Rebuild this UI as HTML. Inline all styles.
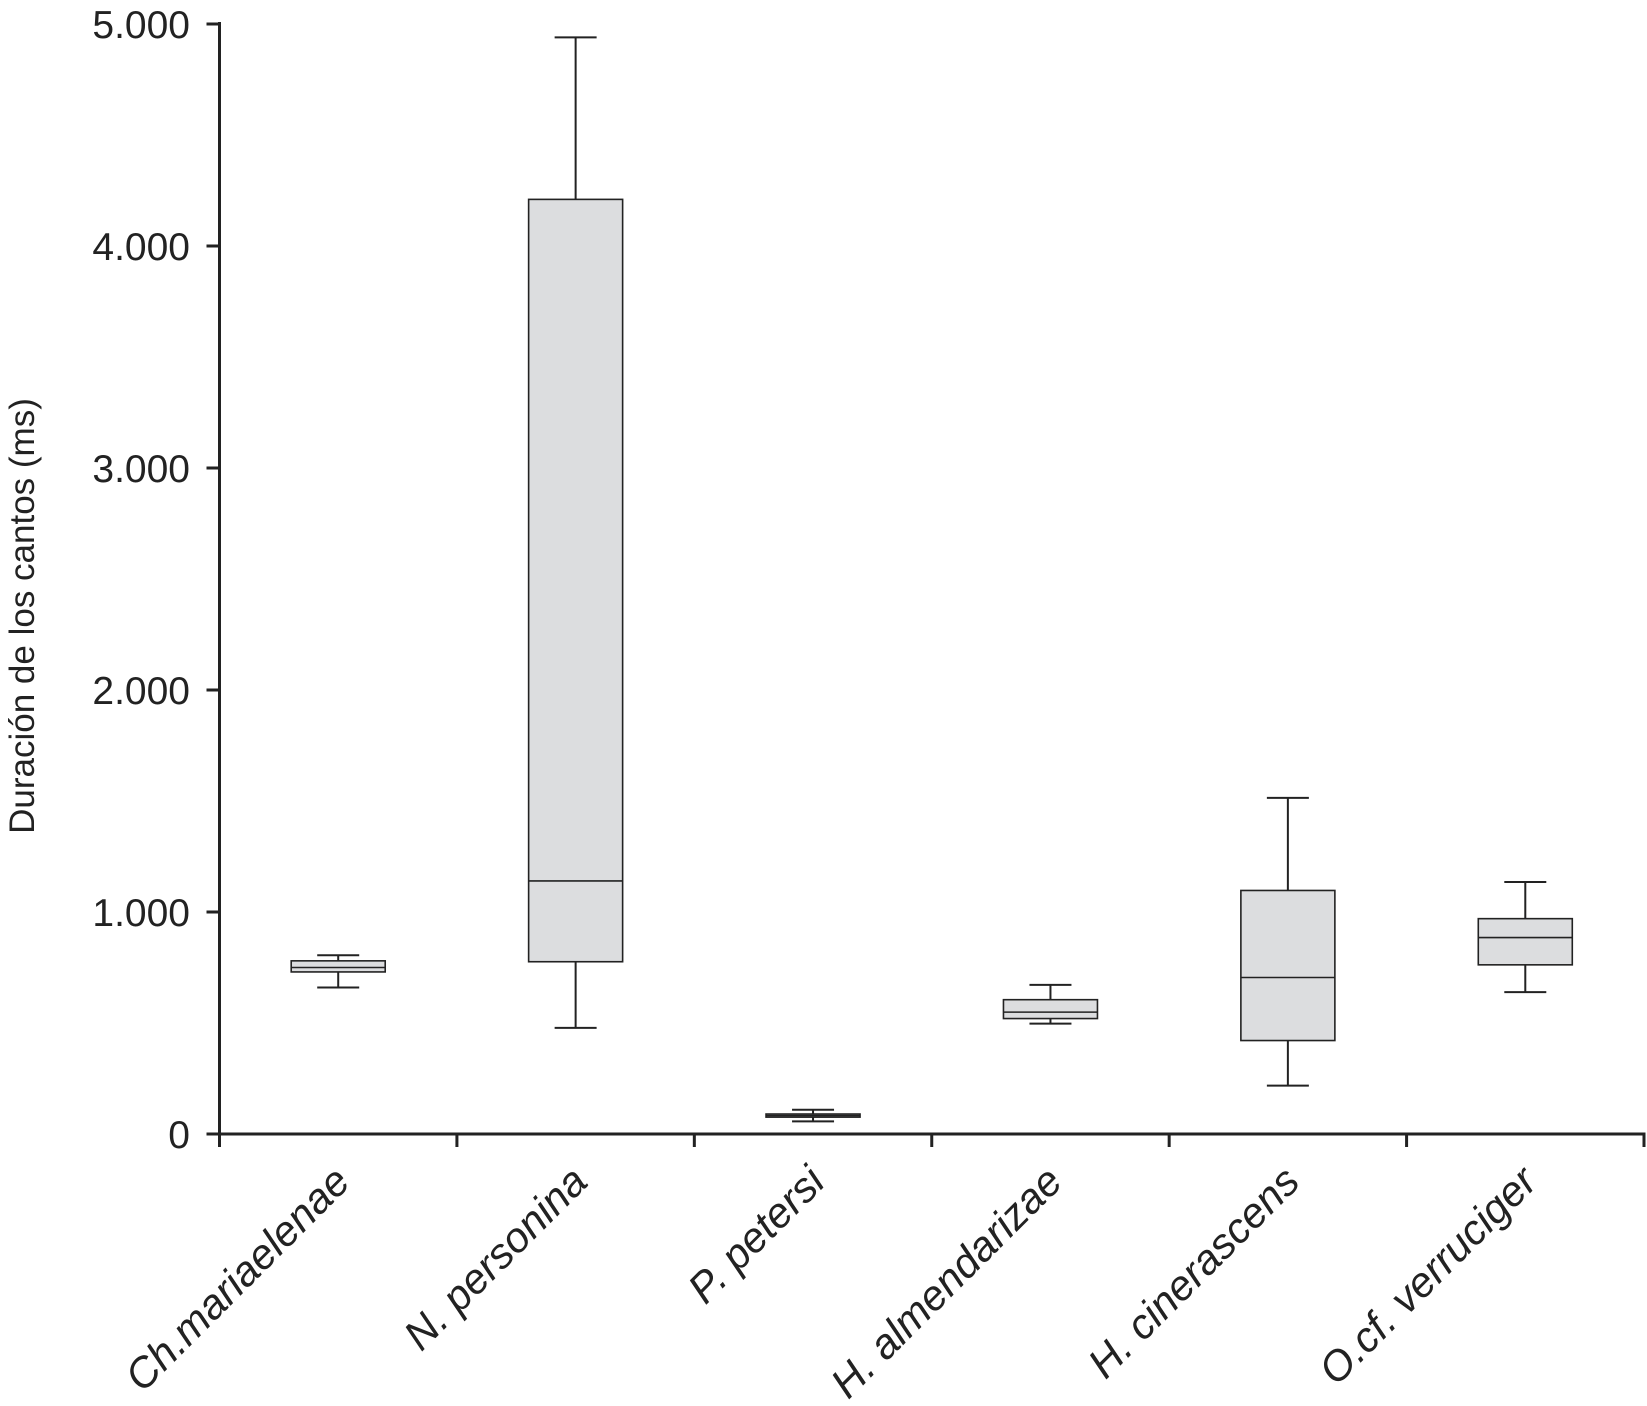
<!DOCTYPE html>
<html><head><meta charset="utf-8"><style>
body{margin:0;background:#fff}
svg{display:block;font-family:"Liberation Sans",Arial,sans-serif}
</style></head><body>
<svg id="chart" width="1647" height="1406" viewBox="0 0 1647 1406" xmlns="http://www.w3.org/2000/svg">
<g id="axes"></g><g id="boxes"></g>
<text transform="translate(34,616) rotate(-90)" text-anchor="middle" font-size="35" fill="#222">Duración de los cantos (ms)</text>
</svg>
<script>
const categories=["Ch.mariaelenae","N. personina","P. petersi","H. almendarizae","H. cinerascens","O.cf. verruciger"];
const whiskerLow=[660,478,57,497,218,639];
const q1=[730,776,76,520,421,762];
const median=[750,1140,83,549,705,885];
const q3=[780,4210,90,605,1097,970];
const whiskerHigh=[805,4940,109,672,1514,1135];
const yTicks=[0,1000,2000,3000,4000,5000];
const yTickLabels=["0","1.000","2.000","3.000","4.000","5.000"];

const NS="http://www.w3.org/2000/svg";
const x0=219.5,x1=1644,y0=1134,yTop=24,yMax=5000;
const step=(x1-x0)/categories.length;
const Y=v=>y0-(v/yMax)*(y0-yTop);
const X=i=>x0+step*(i+0.5);
function mk(tag,attrs,parent){const e=document.createElementNS(NS,tag);for(const k in attrs)e.setAttribute(k,attrs[k]);parent.appendChild(e);return e;}
const axes=document.getElementById('axes'),boxes=document.getElementById('boxes');
let e=mk('line',{x1:x0,y1:yTop-2,x2:x0,y2:y0+1.5,stroke:'#222','stroke-width':3},axes);


e=mk('line',{x1:x0-1.5,y1:y0,x2:x1+1.5,y2:y0,stroke:'#222','stroke-width':3},axes);


yTicks.forEach((v,i)=>{
  let t=mk('line',{x1:x0-13,y1:Y(v),x2:x0,y2:Y(v),stroke:'#222','stroke-width':3},axes);
  
  
  let l=mk('text',{x:190,y:Y(v)+14,'text-anchor':'end','font-size':39,fill:'#222'},axes);
  l.textContent=yTickLabels[i];
  
  
});
for(let i=0;i<=categories.length;i++){
  let t=mk('line',{x1:x0+step*i,y1:y0,x2:x0+step*i,y2:y0+13,stroke:'#222','stroke-width':3},axes);
  
  
}
const bw=94,cw=42;
categories.forEach((c,i)=>{
  const cx=X(i);
  const g=mk('g',{},boxes);
  
  
  mk('line',{x1:cx,y1:Y(whiskerHigh[i]),x2:cx,y2:Y(q3[i]),stroke:'#222','stroke-width':2},g);
  mk('line',{x1:cx,y1:Y(whiskerLow[i]),x2:cx,y2:Y(q1[i]),stroke:'#222','stroke-width':2},g);
  mk('line',{x1:cx-cw/2,y1:Y(whiskerHigh[i]),x2:cx+cw/2,y2:Y(whiskerHigh[i]),stroke:'#222','stroke-width':2},g);
  mk('line',{x1:cx-cw/2,y1:Y(whiskerLow[i]),x2:cx+cw/2,y2:Y(whiskerLow[i]),stroke:'#222','stroke-width':2},g);
  mk('rect',{x:cx-bw/2,y:Y(q3[i]),width:bw,height:Math.max(Y(q1[i])-Y(q3[i]),1),fill:'#dcdddf',stroke:'#222','stroke-width':1.6},g);
  mk('line',{x1:cx-bw/2,y1:Y(median[i]),x2:cx+bw/2,y2:Y(median[i]),stroke:'#222','stroke-width':1.6},g);
  const lx=cx+14,ly=y0+50;
  let l=mk('text',{x:lx,y:ly,transform:`rotate(-45 ${lx} ${ly})`,'text-anchor':'end','font-size':42,'font-style':'italic',fill:'#222'},boxes);
  l.textContent=c;
  
  
});
</script>
</body></html>
